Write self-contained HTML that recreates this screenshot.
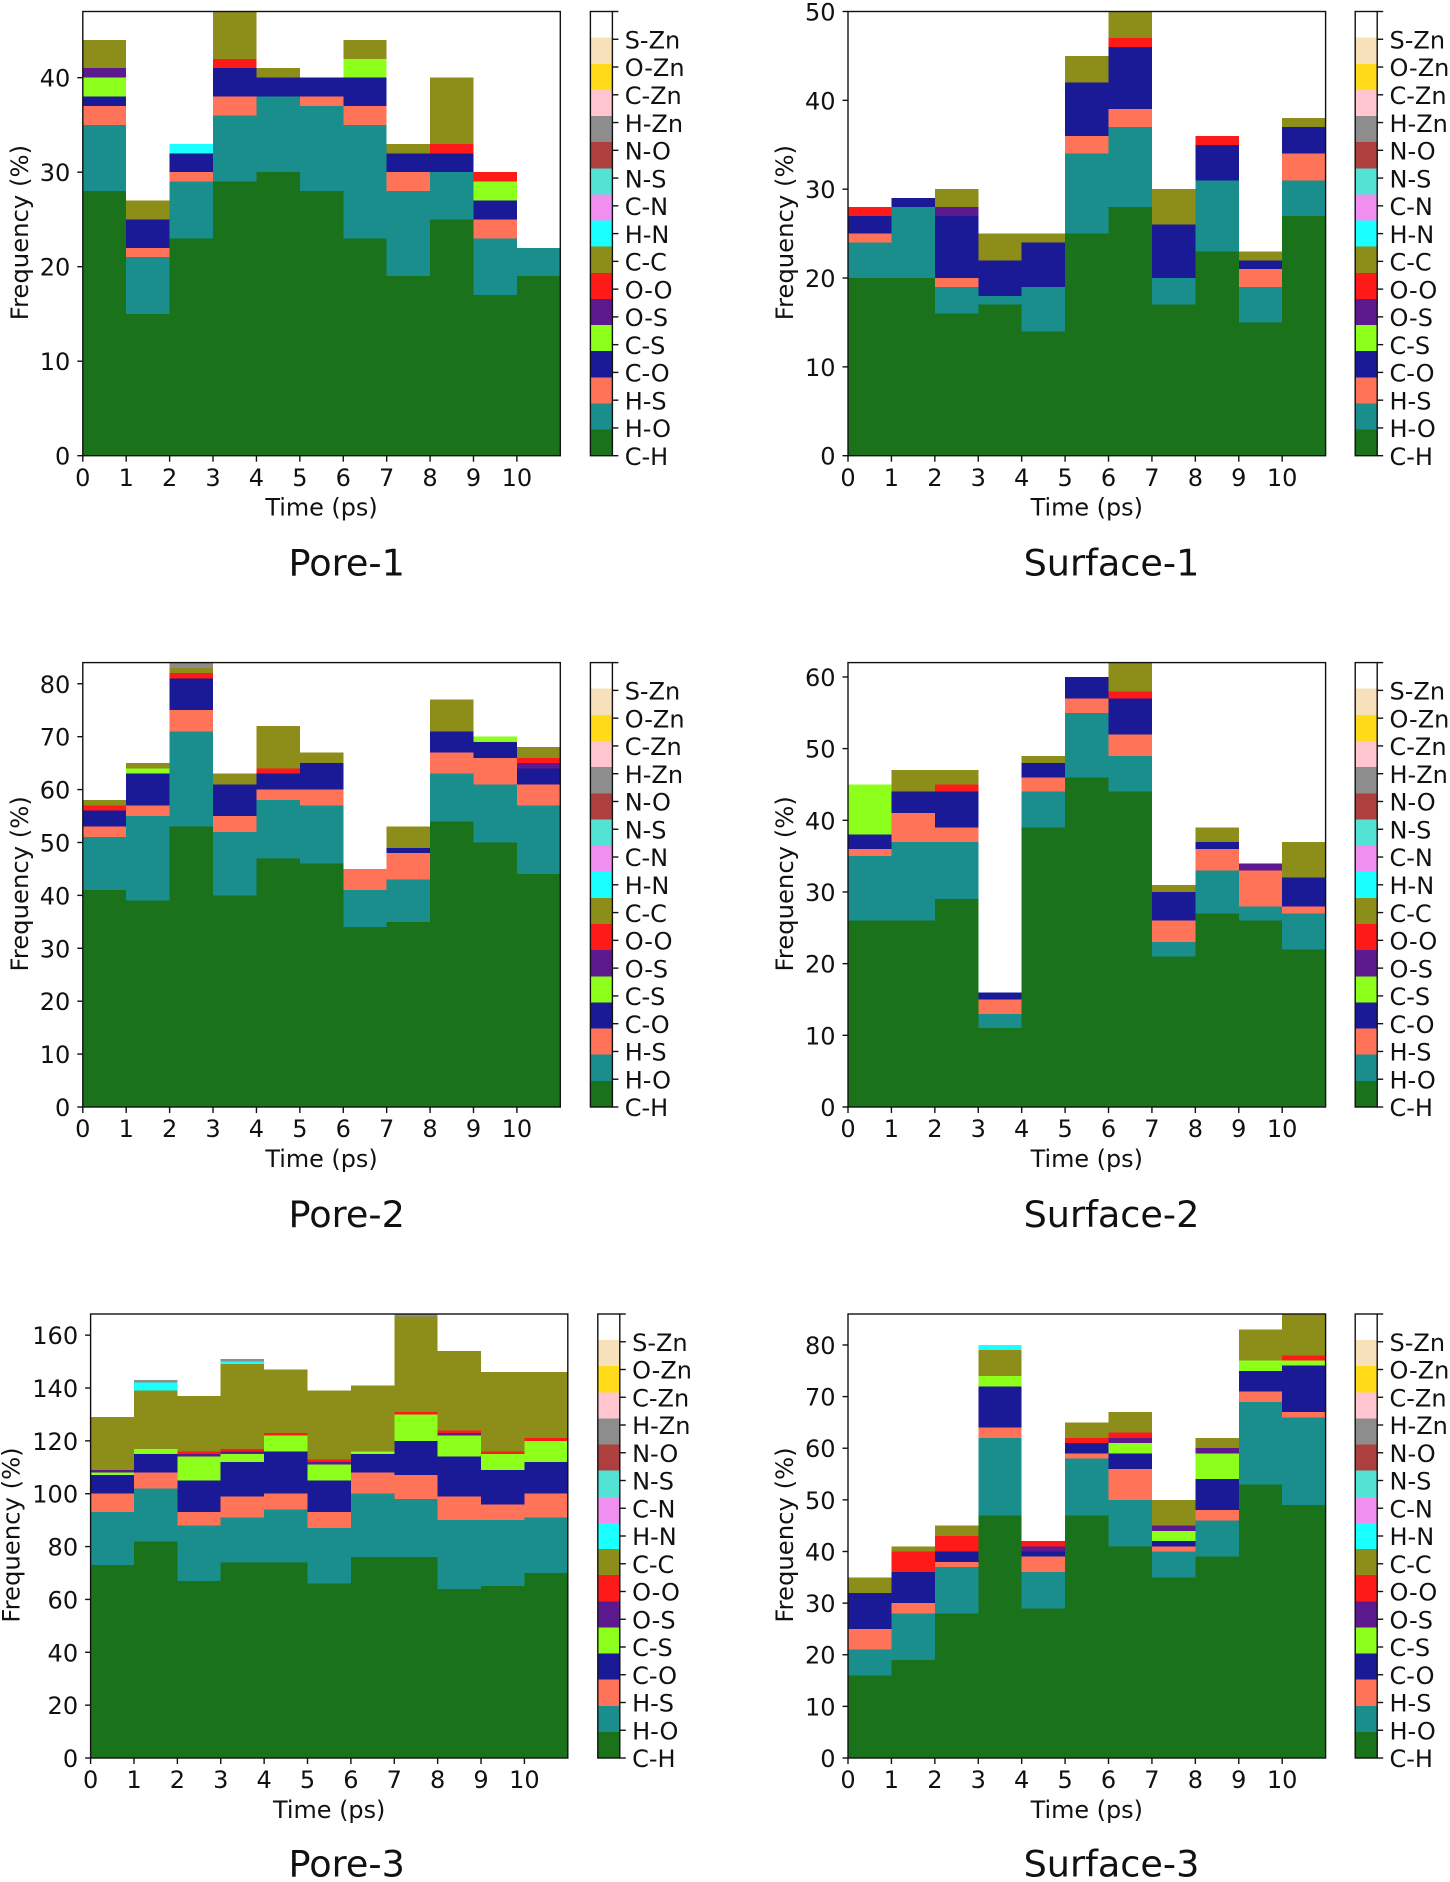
<!DOCTYPE html>
<html lang="en">
<head>
<meta charset="utf-8">
<title>Contact frequency over time</title>
<style>
html,body{margin:0;padding:0;background:#fff;}
svg{display:block;}
text{font-family:"DejaVu Sans","Liberation Sans",sans-serif;fill:#111;}
</style>
</head>
<body>
<svg id="figure" xmlns="http://www.w3.org/2000/svg" width="1450" height="1882" viewBox="0 0 1450 1882"></svg>
<script>
// ---- categories and tick labels ----
const seriesNames = ["C-H","H-O","H-S","C-O","C-S","O-S","O-O","C-C","H-N","C-N","N-S","N-O","H-Zn","C-Zn","O-Zn","S-Zn"];
const seriesColors = ["#1a731a","#1a8d8d","#ff7359","#1a1a96","#8cff1a","#5d1a8e","#ff1a1a","#8d8d1a","#1affff","#f08ff0","#53e3d5","#ae3f3f","#8d8d8d","#ffc6d0","#ffdb1a","#f6e1bb"];
const binStarts = [0,1,2,3,4,5,6,7,8,9,10];
const xTickLabels = ["0","1","2","3","4","5","6","7","8","9","10"];
const panelTitles = ["Pore-1","Surface-1","Pore-2","Surface-2","Pore-3","Surface-3"];
const yLimits = [47,50,84,62,168,86];
const yTickLabels = [
  ["0","10","20","30","40"],
  ["0","10","20","30","40","50"],
  ["0","10","20","30","40","50","60","70","80"],
  ["0","10","20","30","40","50","60"],
  ["0","20","40","60","80","100","120","140","160"],
  ["0","10","20","30","40","50","60","70","80"]
];

// ---- series values: one row per series (C-H, H-O, ... H-Zn), one column per time bin ----
const pore1 = [
  [28,15,23,29,30,28,23,19,25,17,19],
  [7,6,6,7,8,9,12,9,5,6,3],
  [2,1,1,2,0,1,2,2,0,2,0],
  [1,3,2,3,2,2,3,2,2,2,0],
  [2,0,0,0,0,0,2,0,0,2,0],
  [1,0,0,0,0,0,0,0,0,0,0],
  [0,0,0,1,0,0,0,0,1,1,0],
  [3,2,0,5,1,0,2,1,7,0,0],
  [0,0,1,0,0,0,0,0,0,0,0]
];
const surface1 = [
  [20,20,16,17,14,25,28,17,23,15,27],
  [4,8,3,1,5,9,9,3,8,4,4],
  [1,0,1,0,0,2,2,0,0,2,3],
  [2,1,7,4,5,6,7,6,4,1,3],
  [0,0,0,0,0,0,0,0,0,0,0],
  [0,0,1,0,0,0,0,0,0,0,0],
  [1,0,0,0,0,0,1,0,1,0,0],
  [0,0,2,3,1,3,3,4,0,1,1]
];
const pore2 = [
  [41,39,53,40,47,46,34,35,54,50,44],
  [10,16,18,12,11,11,7,8,9,11,13],
  [2,2,4,3,2,3,4,5,4,5,4],
  [3,6,6,6,3,5,0,1,4,3,3],
  [0,1,0,0,0,0,0,0,0,1,0],
  [0,0,0,0,0,0,0,0,0,0,1],
  [1,0,1,0,1,0,0,0,0,0,1],
  [1,1,1,2,8,2,0,4,6,0,2],
  [0,0,0,0,0,0,0,0,0,0,0],
  [0,0,0,0,0,0,0,0,0,0,0],
  [0,0,0,0,0,0,0,0,0,0,0],
  [0,0,0,0,0,0,0,0,0,0,0],
  [0,0,1,0,0,0,0,0,0,0,0]
];
const surface2 = [
  [26,26,29,11,39,46,44,21,27,26,22],
  [9,11,8,2,5,9,5,2,6,2,5],
  [1,4,2,2,2,2,3,3,3,5,1],
  [2,3,5,1,2,3,5,4,1,0,4],
  [7,0,0,0,0,0,0,0,0,0,0],
  [0,0,0,0,0,0,0,0,0,1,0],
  [0,0,1,0,0,0,1,0,0,0,0],
  [0,3,2,0,1,0,4,1,2,0,5]
];
const pore3 = [
  [73,82,67,74,74,66,76,76,64,65,70],
  [20,20,21,17,20,21,24,22,26,25,21],
  [7,6,5,8,6,6,8,9,9,6,9],
  [7,7,12,13,16,12,7,13,15,13,12],
  [1,2,9,3,6,6,1,10,8,6,8],
  [1,0,1,1,0,1,0,0,1,0,0],
  [0,0,1,1,1,1,0,1,1,1,1],
  [20,22,21,32,24,26,25,36,30,30,25],
  [0,3,0,1,0,0,0,0,0,0,0],
  [0,0,0,0,0,0,0,0,0,0,0],
  [0,0,0,0,0,0,0,0,0,0,0],
  [0,0,0,0,0,0,0,0,0,0,0],
  [0,1,0,1,0,0,0,1,0,0,0]
];
const surface3 = [
  [16,19,28,47,29,47,41,35,39,53,49],
  [5,9,9,15,7,11,9,5,7,16,17],
  [4,2,1,2,3,1,6,1,2,2,1],
  [7,6,2,8,1,2,3,1,6,4,9],
  [0,0,0,2,0,0,2,2,5,2,1],
  [0,0,0,0,1,0,1,1,1,0,0],
  [0,4,3,0,1,1,1,0,0,0,1],
  [3,1,2,5,0,3,4,5,2,6,8],
  [0,0,0,1,0,0,0,0,0,0,0]
];
const panelValues = [pore1,surface1,pore2,surface2,pore3,surface3];

// ---- figure layout (not data) ----
const LAYOUT = [
  {l:82.8, r:560.3, t:11.5, b:455.7, cb:590.4, ylab:21,   tx:346.7, ty:562},
  {l:848,  r:1325.6,t:11.5, b:455.7, cb:1355.2,ylab:786,  tx:1111.5,ty:562},
  {l:82.8, r:560.3, t:662.6,b:1107,  cb:590.4, ylab:21,   tx:346.7, ty:1213.5},
  {l:848,  r:1325.6,t:662.6,b:1107,  cb:1355.2,ylab:786,  tx:1111.5,ty:1213.5},
  {l:90.6, r:567.8, t:1314, b:1758,  cb:597.8, ylab:12.5, tx:346.7, ty:1863},
  {l:848,  r:1325.6,t:1314, b:1758,  cb:1355.2,ylab:786,  tx:1111.5,ty:1863}
];
const CB_W = 22, TICK = 5.5, FS = 24, XLABEL_FS = 23.9, YLABEL_FS = 24.3, TITLE_FS = 36.6, LW = 1.4, INK = "#111";
const SVGNS = "http://www.w3.org/2000/svg";
const root = document.getElementById("figure");

function make(tag, attrs, parent, txt){
  const n = document.createElementNS(SVGNS, tag);
  for (const k in attrs) n.setAttribute(k, attrs[k]);
  if (txt !== undefined) n.textContent = txt;
  parent.appendChild(n);
  return n;
}
function xScale(p, v, xMax){ return p.l + (p.r - p.l) * v / xMax; }
function yScale(p, v, yMax){ return p.b - (p.b - p.t) * v / yMax; }
function slug(s){ return s.toLowerCase(); }

LAYOUT.forEach(function(p, i){
  const title = panelTitles[i];
  const yMax = yLimits[i];
  const values = panelValues[i];
  const xMax = binStarts.length;
  const id = slug(title);

  const g = make("g", {}, root);
  
  

  // stacked histogram bars
  binStarts.forEach(function(bin, b){
    let base = 0;
    values.forEach(function(row, s){
      const v = row[b];
      if (!v) return;
      const y0 = yScale(p, base, yMax), y1 = yScale(p, Math.min(base + v, yMax), yMax);
      const rect = make("rect", {
        x: xScale(p, bin, xMax), y: y1,
        width: xScale(p, bin + 1, xMax) - xScale(p, bin, xMax),
        height: y0 - y1, fill: seriesColors[s], "shape-rendering": "crispEdges"
      }, g);
      
      
      base += v;
    });
  });

  // axes frame
  const frame = make("rect", {x:p.l, y:p.t, width:p.r-p.l, height:p.b-p.t, fill:"none", stroke:INK, "stroke-width":LW}, g);
  
  

  // x ticks
  xTickLabels.forEach(function(lab, k){
    const x = xScale(p, binStarts[k], xMax);
    const tick = make("line", {x1:x, x2:x, y1:p.b, y2:p.b+TICK+0.5, stroke:INK, "stroke-width":LW}, g);
    
    
    const t = make("text", {x:x, y:p.b+30.2, "text-anchor":"middle", "font-size":FS}, g, lab);
    
    
  });

  // y ticks
  yTickLabels[i].forEach(function(lab){
    const y = yScale(p, Number(lab), yMax);
    const tick = make("line", {x1:p.l-TICK, x2:p.l, y1:y, y2:y, stroke:INK, "stroke-width":LW}, g);
    
    
    const t = make("text", {x:p.l-12.5, y:y+9, "text-anchor":"end", "font-size":FS}, g, lab);
    
    
  });

  // axis titles
  const xt = make("text", {x:(p.l+p.r)/2, y:p.b+60, "text-anchor":"middle", "font-size":XLABEL_FS}, g, "Time (ps)");
  
  
  const yc = (p.t+p.b)/2 - 1;
  const yx = p.ylab + 7;
  const yt = make("text", {x:yx, y:yc, "text-anchor":"middle", "font-size":YLABEL_FS, transform:"rotate(-90 "+yx+" "+yc+")"}, g, "Frequency (%)");
  
  

  // panel title
  const pt = make("text", {x:p.tx, y:p.ty+13.5, "text-anchor":"middle", "font-size":TITLE_FS}, g, title);
  
  

  // colorbar: 16 colours plus a white top band, 17 tick marks
  const cbg = make("g", {}, g);
  
  
  const H = p.b - p.t, segH = H / 17, tickH = H / 16;
  seriesColors.forEach(function(c, s){
    const seg = make("rect", {x:p.cb, y:p.b-(s+1)*segH, width:CB_W, height:segH, fill:c, "shape-rendering":"crispEdges"}, cbg);
    
    
    const y = p.b - s*tickH;
    const tick = make("line", {x1:p.cb+CB_W, x2:p.cb+CB_W+TICK+0.5, y1:y, y2:y, stroke:INK, "stroke-width":LW}, cbg);
    
    
    const t = make("text", {x:p.cb+CB_W+12.3, y:y+9.2, "font-size":FS}, cbg, seriesNames[s]);
    
    
  });
  const topTick = make("line", {x1:p.cb+CB_W, x2:p.cb+CB_W+TICK+0.5, y1:p.t, y2:p.t, stroke:INK, "stroke-width":LW}, cbg);
  
  
  const cbf = make("rect", {x:p.cb, y:p.t, width:CB_W, height:H, fill:"none", stroke:INK, "stroke-width":LW}, cbg);
  
  
});
</script>
</body>
</html>
